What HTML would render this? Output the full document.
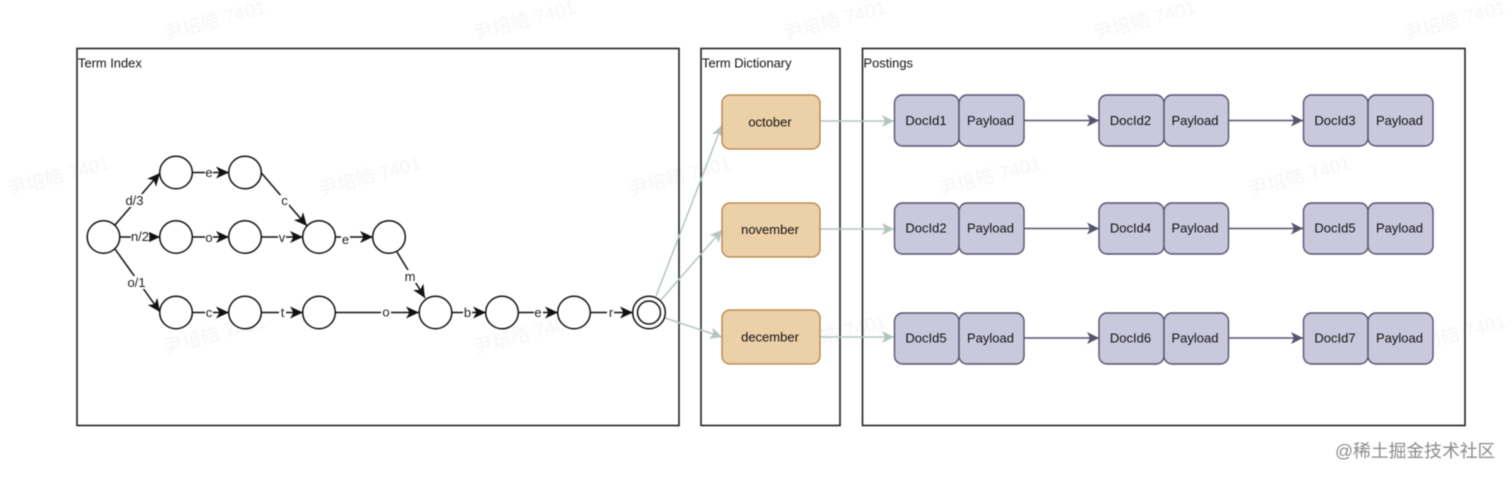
<!DOCTYPE html>
<html><head><meta charset="utf-8"><style>
html,body{margin:0;padding:0;background:#fff;width:1512px;height:478px;overflow:hidden}
svg{display:block;filter:blur(.45px)}
text{font-family:"Liberation Sans","Noto Sans CJK SC",sans-serif}
.wm{font-size:19px;fill:#f6f6f6}
.t{font-size:13px;fill:#111;text-anchor:middle}
.l{font-size:13px;fill:#222;text-anchor:middle}
.c{fill:#fff;stroke:#111;stroke-width:1.5}
.e{stroke:#111;stroke-width:1.5;fill:none;marker-end:url(#a)}
.g{stroke:#b4c6c0;stroke-width:1.5;fill:none;marker-end:url(#g)}
.p{stroke:#55536e;stroke-width:1.5;fill:none;marker-end:url(#p)}
.o{fill:#ecd0a8;stroke:#b5803f;stroke-width:1.3}
.d{fill:#c9c8dc;stroke:#55536e;stroke-width:1.4}
.bg{fill:#fff;stroke:none}
.f{fill:none;stroke:#222;stroke-width:1.6}
</style></head><body>
<svg width="1512" height="478" viewBox="0 0 1512 478" xmlns="http://www.w3.org/2000/svg">
<defs>
<marker id="a" markerUnits="userSpaceOnUse" markerWidth="14" markerHeight="12" refX="13" refY="6" orient="auto"><path d="M0 0L13 6L0 12L3.500 6Z" fill="#111"/></marker>
<marker id="g" markerUnits="userSpaceOnUse" markerWidth="14" markerHeight="12" refX="12" refY="6" orient="auto"><path d="M0 0L12 6L0 12L3 6Z" fill="#b4c6c0"/></marker>
<marker id="p" markerUnits="userSpaceOnUse" markerWidth="14" markerHeight="12" refX="12" refY="6" orient="auto"><path d="M0 0L12 6L0 12L3 6Z" fill="#55536e"/></marker>
</defs>
<g class="wm">
<text transform="translate(166,40) rotate(-15)">尹培皓 7401</text>
<text transform="translate(476,40) rotate(-15)">尹培皓 7401</text>
<text transform="translate(786,40) rotate(-15)">尹培皓 7401</text>
<text transform="translate(1096,40) rotate(-15)">尹培皓 7401</text>
<text transform="translate(1406,40) rotate(-15)">尹培皓 7401</text>
<text transform="translate(10,196) rotate(-15)">尹培皓 7401</text>
<text transform="translate(321,196) rotate(-15)">尹培皓 7401</text>
<text transform="translate(631,196) rotate(-15)">尹培皓 7401</text>
<text transform="translate(941,196) rotate(-15)">尹培皓 7401</text>
<text transform="translate(1251,196) rotate(-15)">尹培皓 7401</text>
<text transform="translate(166,354) rotate(-15)">尹培皓 7401</text>
<text transform="translate(476,354) rotate(-15)">尹培皓 7401</text>
<text transform="translate(786,354) rotate(-15)">尹培皓 7401</text>
<text transform="translate(1096,354) rotate(-15)">尹培皓 7401</text>
<text transform="translate(1406,354) rotate(-15)">尹培皓 7401</text>
</g>
<rect class="f" x="77" y="48.500" width="602" height="377"/>
<rect class="f" x="701" y="48.500" width="139" height="377"/>
<rect class="f" x="862.500" y="48.500" width="602.500" height="377"/>
<text x="78" y="67.500" font-size="12.900" fill="#111">Term Index</text>
<text x="702" y="67.500" font-size="12.900" fill="#111">Term Dictionary</text>
<text x="863.500" y="67.500" font-size="12.900" fill="#111">Postings</text>

<!-- green connectors -->
<path class="g" d="M656 296L722 125"/>
<path class="g" d="M661 300L722 230"/>
<path class="g" d="M665 318L722 337"/>
<path class="g" d="M820 121H894"/>
<path class="g" d="M820 229H894"/>
<path class="g" d="M820 337H894"/>

<!-- black edges -->
<path class="e" d="M115 225L160 173"/>
<path class="e" d="M120 237H160"/>
<path class="e" d="M115 249L160 312"/>
<path class="e" d="M192 172.500H229"/>
<path class="e" d="M192 237H229"/>
<path class="e" d="M192 312.500H229"/>
<path class="e" d="M261 172.500L307 226"/>
<path class="e" d="M261 237H303"/>
<path class="e" d="M261 312.500H303"/>
<path class="e" d="M335 237H373"/>
<path class="e" d="M397 252L425 298"/>
<path class="e" d="M335 312.500H419"/>
<path class="e" d="M452 312.500H486"/>
<path class="e" d="M518 312.500H558"/>
<path class="e" d="M590 312.500H633"/>

<!-- label backgrounds and labels -->
<rect class="bg" x="125" y="194" width="20" height="13"/><text class="l" x="134.500" y="205">d/3</text>
<rect class="bg" x="131" y="231" width="18" height="12"/><text class="l" x="140" y="241">n/2</text>
<rect class="bg" x="127" y="276" width="19" height="13"/><text class="l" x="136.500" y="287">o/1</text>
<rect class="bg" x="205" y="167" width="8" height="11"/><text class="l" x="209" y="177">e</text>
<rect class="bg" x="205" y="232" width="8" height="11"/><text class="l" x="209" y="242">o</text>
<rect class="bg" x="205" y="307" width="8" height="11"/><text class="l" x="209" y="317">c</text>
<rect class="bg" x="280" y="195" width="9" height="12"/><text class="l" x="284.500" y="205">c</text>
<rect class="bg" x="278" y="232" width="8" height="11"/><text class="l" x="282" y="242">v</text>
<rect class="bg" x="279" y="307" width="7" height="11"/><text class="l" x="282.500" y="317">t</text>
<rect class="bg" x="341" y="233" width="9" height="12"/><text class="l" x="345.500" y="244">e</text>
<rect class="bg" x="403" y="270" width="14" height="13"/><text class="l" x="410" y="281">m</text>
<rect class="bg" x="381" y="307" width="10" height="11"/><text class="l" x="386" y="316.500">o</text>
<rect class="bg" x="463" y="307" width="9" height="11"/><text class="l" x="467.500" y="317">b</text>
<rect class="bg" x="534" y="307" width="9" height="11"/><text class="l" x="538" y="317">e</text>
<rect class="bg" x="607" y="307" width="7" height="11"/><text class="l" x="611" y="317">r</text>

<!-- nodes -->
<circle class="c" cx="103.500" cy="237" r="16.300"/>
<circle class="c" cx="176" cy="172.500" r="16.300"/>
<circle class="c" cx="245" cy="172.500" r="16.300"/>
<circle class="c" cx="176" cy="237" r="16.300"/>
<circle class="c" cx="245" cy="237" r="16.300"/>
<circle class="c" cx="319" cy="237" r="16.300"/>
<circle class="c" cx="389" cy="237" r="16.300"/>
<circle class="c" cx="176" cy="312.500" r="16.300"/>
<circle class="c" cx="245" cy="312.500" r="16.300"/>
<circle class="c" cx="319" cy="312.500" r="16.300"/>
<circle class="c" cx="435.500" cy="312.500" r="16.300"/>
<circle class="c" cx="502" cy="312.500" r="16.300"/>
<circle class="c" cx="574" cy="312.500" r="16.300"/>
<circle class="c" cx="649" cy="312.500" r="16.300"/>
<circle class="c" cx="649" cy="312.500" r="11.500"/>

<!-- dictionary -->
<rect class="o" x="722" y="95" width="98" height="54" rx="8"/>
<rect class="o" x="722" y="203" width="98" height="54" rx="8"/>
<rect class="o" x="722" y="310" width="98" height="54" rx="8"/>
<text class="t" x="770" y="126.500">october</text>
<text class="t" x="770" y="234">november</text>
<text class="t" x="770" y="341.500">december</text>

<!-- posting arrows -->
<path class="p" d="M1024 120.500H1099"/><path class="p" d="M1228 120.500H1303"/>
<path class="p" d="M1024 228.500H1099"/><path class="p" d="M1228 228.500H1303"/>
<path class="p" d="M1024 338H1099"/><path class="p" d="M1228 338H1303"/>

<!-- row 1 -->
<rect class="d" x="894.500" y="95" width="64.500" height="51" rx="8"/><rect class="d" x="959" y="95" width="65" height="51" rx="8"/>
<rect class="d" x="1099" y="95" width="65" height="51" rx="8"/><rect class="d" x="1164" y="95" width="64.500" height="51" rx="8"/>
<rect class="d" x="1303.500" y="95" width="64.500" height="51" rx="8"/><rect class="d" x="1368" y="95" width="65" height="51" rx="8"/>
<text class="t" x="926" y="125">DocId1</text><text class="t" x="990.500" y="125">Payload</text>
<text class="t" x="1130.500" y="125">DocId2</text><text class="t" x="1195" y="125">Payload</text>
<text class="t" x="1335" y="125">DocId3</text><text class="t" x="1399.500" y="125">Payload</text>
<!-- row 2 -->
<rect class="d" x="894.500" y="203" width="64.500" height="51" rx="8"/><rect class="d" x="959" y="203" width="65" height="51" rx="8"/>
<rect class="d" x="1099" y="203" width="65" height="51" rx="8"/><rect class="d" x="1164" y="203" width="64.500" height="51" rx="8"/>
<rect class="d" x="1303.500" y="203" width="64.500" height="51" rx="8"/><rect class="d" x="1368" y="203" width="65" height="51" rx="8"/>
<text class="t" x="926" y="232.500">DocId2</text><text class="t" x="990.500" y="232.500">Payload</text>
<text class="t" x="1130.500" y="232.500">DocId4</text><text class="t" x="1195" y="232.500">Payload</text>
<text class="t" x="1335" y="232.500">DocId5</text><text class="t" x="1399.500" y="232.500">Payload</text>
<!-- row 3 -->
<rect class="d" x="894.500" y="313" width="64.500" height="51" rx="8"/><rect class="d" x="959" y="313" width="65" height="51" rx="8"/>
<rect class="d" x="1099" y="313" width="65" height="51" rx="8"/><rect class="d" x="1164" y="313" width="64.500" height="51" rx="8"/>
<rect class="d" x="1303.500" y="313" width="64.500" height="51" rx="8"/><rect class="d" x="1368" y="313" width="65" height="51" rx="8"/>
<text class="t" x="926" y="342.500">DocId5</text><text class="t" x="990.500" y="342.500">Payload</text>
<text class="t" x="1130.500" y="342.500">DocId6</text><text class="t" x="1195" y="342.500">Payload</text>
<text class="t" x="1335" y="342.500">DocId7</text><text class="t" x="1399.500" y="342.500">Payload</text>

<text x="1335" y="457" font-size="17.800" fill="#8a8a8a">@稀土掘金技术社区</text>
</svg>
</body></html>
